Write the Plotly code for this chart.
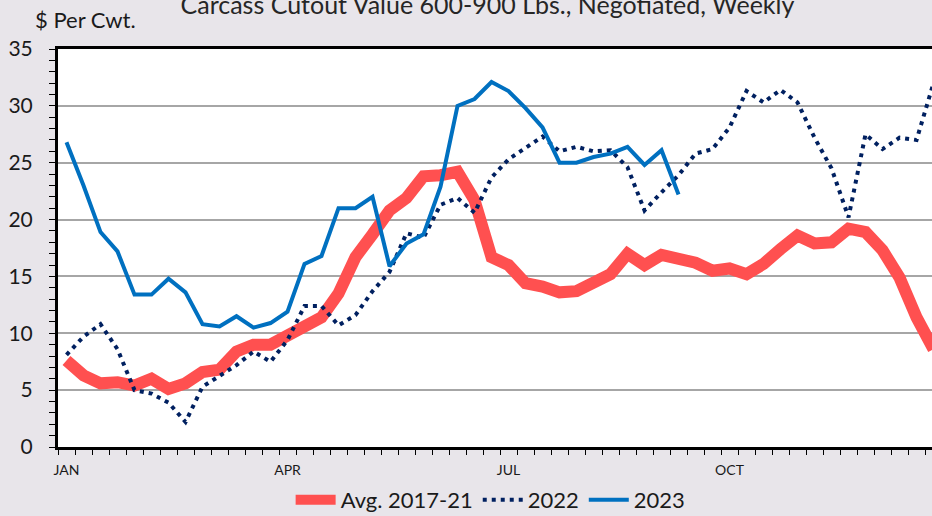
import plotly.graph_objects as go

weeks = list(range(52))

avg_2017_21 = [7.6, 6.3, 5.6, 5.7, 5.4, 6.0, 5.1, 5.6, 6.6, 6.8, 8.4, 9.0, 9.0, 9.8, 10.5, 11.4,
               13.5, 16.7, 18.7, 20.8, 21.9, 23.8, 23.9, 24.2, 21.7, 16.7, 16.0, 14.4, 14.1, 13.6,
               13.7, 14.4, 15.2, 17.0, 16.0, 16.9, 16.5, 16.2, 15.5, 15.7, 15.2, 16.1, 17.4, 18.6,
               17.9, 18.0, 19.2, 18.9, 17.3, 14.9, 11.4, 8.6]

y2022 = [8.1, 9.7, 10.8, 8.6, 5.0, 4.7, 3.9, 2.2, 5.3, 6.3, 7.2, 8.4, 7.5, 9.4, 12.4, 12.4,
         10.7, 11.6, 13.7, 15.4, 18.8, 18.4, 21.3, 21.9, 20.6, 23.7, 25.3, 26.3, 27.3, 26.0,
         26.4, 26.0, 26.1, 24.6, 20.8, 22.4, 23.9, 25.8, 26.2, 28.1, 31.3, 30.3, 31.4, 30.3,
         27.2, 24.5, 20.2, 27.5, 26.2, 27.2, 27.0, 32.0]

y2023 = [26.8, 23.0, 18.9, 17.2, 13.4, 13.4, 14.8, 13.6, 10.8, 10.6, 11.5, 10.5, 10.9, 11.9,
         16.1, 16.8, 21.0, 21.0, 22.0, 15.9, 17.9, 18.7, 22.9, 30.0, 30.6, 32.1, 31.3, 29.8,
         28.1, 25.0, 25.0, 25.5, 25.8, 26.4, 24.8, 26.1, 22.2]

tick_pos = [0, 13, 26, 39]
tick_text = ["JAN", "APR", "JUL", "OCT"]
y_ticks = [0, 5, 10, 15, 20, 25, 30, 35]

FONT = "Lato, 'Open Sans', sans-serif"

fig = go.Figure()
fig.add_trace(go.Scatter(x=weeks, y=avg_2017_21, mode="lines", name="Avg. 2017-21",
                         line=dict(color="#FF5050", width=12)))
fig.add_trace(go.Scatter(x=weeks[:len(y2022)], y=y2022, mode="lines", name="2022",
                         line=dict(color="#002060", width=4, dash="4px,5px")))
fig.add_trace(go.Scatter(x=weeks[:len(y2023)], y=y2023, mode="lines", name="2023",
                         line=dict(color="#0070C0", width=4)))

fig.update_layout(
    width=932, height=516,
    margin=dict(l=58, r=0, t=49, b=69),
    paper_bgcolor="#e8e5ea",
    plot_bgcolor="#ffffff",
    font=dict(family=FONT, color="#1a1a1a"),
    title=dict(text="Carcass Cutout Value 600-900 Lbs., Negotiated, Weekly",
               x=0.523, xanchor="center", y=0.990, yanchor="middle",
               font=dict(size=25, color="#262626")),
    showlegend=True,
    legend=dict(orientation="h", x=0.495, xanchor="center",
                yref="container", y=0.031, yanchor="middle",
                font=dict(size=22, color="#1a1a1a"), bgcolor="rgba(0,0,0,0)",
                itemwidth=40, tracegroupgap=0),
    annotations=[dict(text="$ Per Cwt.", xref="paper", yref="paper", x=-0.029, y=1.073,
                      xanchor="left", yanchor="middle", showarrow=False,
                      font=dict(size=22, color="#1a1a1a"))],
)

fig.update_xaxes(
    range=[-0.5, 50.91], tickvals=tick_pos, ticktext=tick_text,
    showgrid=False, zeroline=False,
    showline=True, linecolor="#000000", linewidth=3, mirror=True,
    ticks="outside", ticklen=8, tickcolor="rgba(0,0,0,0)",
    tickfont=dict(size=14, color="#1a1a1a"),
    minor=dict(ticks="outside", tick0=-0.5, dtick=1, ticklen=5, tickcolor="#000000",
               tickwidth=1, showgrid=False),
)

fig.update_yaxes(
    range=[0, 35], tickvals=y_ticks,
    showgrid=True, gridcolor="#a6a6a6", gridwidth=1.5, zeroline=False,
    showline=True, linecolor="#000000", linewidth=3, mirror=False,
    ticks="outside", ticklen=6, tickcolor="#000000", tickwidth=1,
    tickfont=dict(size=21, color="#1a1a1a"), ticklabelstandoff=12,
    minor=dict(ticks="outside", dtick=1, ticklen=6, tickcolor="#000000", tickwidth=1,
               showgrid=False),
)

fig.write_html("out.html",
               config={"displayModeBar": False},
               post_script="document.body.style.margin='0';document.body.style.overflow='hidden';")
